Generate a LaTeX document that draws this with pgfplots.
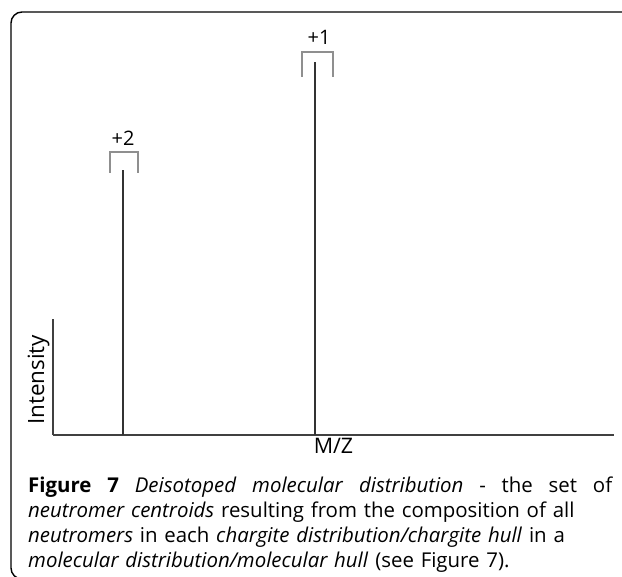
\documentclass[border=0pt]{standalone}
\usepackage{pgfplots}
\pgfplotsset{compat=1.18}
\usepackage{fontspec}
\setmainfont{Open Sans}
\definecolor{axisgray}{HTML}{404040}
\definecolor{spike}{HTML}{333333}
\definecolor{bracket}{HTML}{8F8F8F}

\begin{document}
\begin{tikzpicture}[x=1bp,y=1bp]
\useasboundingbox (0,0) rectangle (622,577);
% frame (right side runs off the page)
\begin{scope}
\clip (0,0) rectangle (622,577);
\draw[black, line width=1.4bp, rounded corners=11bp] (640,565) -- (11,565) -- (11,-2) -- (640,-2);
\end{scope}

\begin{axis}[
    at={(53bp,142bp)}, anchor=origin,
    scale only axis,
    width=561bp, height=116bp,
    xmin=0, xmax=561, ymin=0, ymax=116,
    axis x line=bottom, axis y line=left,
    axis line style={-, axisgray, line width=1.8bp},
    xtick=\empty, ytick=\empty,
    clip=false,
    xlabel={M/Z}, ylabel={Intensity},
    xlabel style={at={(axis description cs:0.5,0)}, anchor=north, yshift=0bp, font=\fontsize{21.5}{24}\selectfont},
    ylabel style={at={(axis description cs:0,0.5)}, anchor=south, rotate=0, xshift=-3bp, font=\fontsize{22.5}{24}\selectfont},
]
% centroid spikes, heights above the baseline
\addplot[ycomb, spike, line width=1.5bp, no marks] coordinates {(70,265) (262,373)};

% charge brackets
\draw[bracket, line width=1.2bp] (axis cs:57,262) -- (axis cs:57,283) -- (axis cs:85,283) -- (axis cs:85,262);
\node[font=\fontsize{20}{22}\selectfont] at (axis cs:70,297) {+2};
\draw[bracket, line width=1.2bp] (axis cs:249,358) -- (axis cs:249,383) -- (axis cs:280,383) -- (axis cs:280,358);
\node[font=\fontsize{20}{22}\selectfont] at (axis cs:266,398) {+1};
\end{axis}

% caption
\node[anchor=north west, inner sep=0pt, text width=600bp, align=left,
      font=\fontsize{20.5}{25}\selectfont] at (28,100.5) {%
\hbox to 584bp{\textbf{Figure\hfill 7}\hfill\textit{Deisotoped}\hfill\textit{molecular}\hfill\textit{distribution}\hfill-\hfill the\hfill set\hfill of}\\
\textit{neutromer centroids} resulting from the composition of all\\
\textit{neutromers} in each \textit{chargite distribution/chargite hull} in a\\
\textit{molecular distribution/molecular hull} (see Figure 7).};
\end{tikzpicture}
\end{document}
